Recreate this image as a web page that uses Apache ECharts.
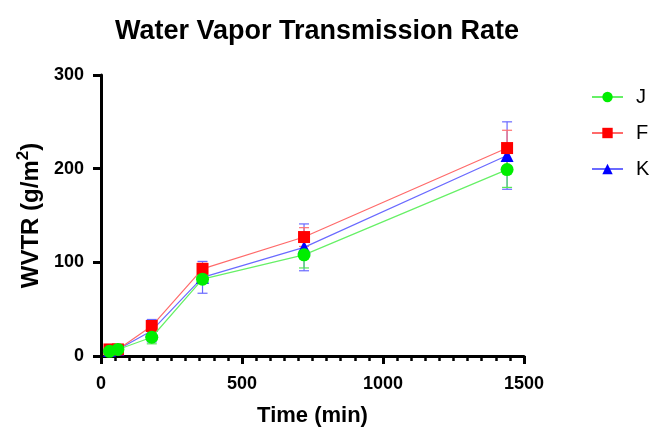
<!DOCTYPE html>
<html>
<head>
<meta charset="utf-8">
<script src="https://cdn.jsdelivr.net/npm/echarts@6/dist/echarts.min.js"></script>
<style>html,body{margin:0;padding:0;background:#fff;}#c{width:654px;height:432px;}</style>
</head>
<body>
<div id="c"></div>
<script>
const times = [30, 60, 180, 360, 720, 1440];
const jVals = [5, 7, 20, 82, 108, 199];
const fVals = [7, 7, 32, 93, 127, 222];
const kVals = [6, 7, 27, 84, 116, 214];
const jErr = [1, 1, 7, 4, 14, 19];
const fErr = [1, 1, 5, 6, 10, 19];
const kErr = [1, 1, 12, 17, 25, 36];
const xTicks = [0, 500, 1000, 1500];
const yTicks = [0, 100, 200, 300];

const chart = echarts.init(document.getElementById('c'));
const FONT = 'Liberation Sans, Arial, sans-serif';

function errSeries(name, vals, errs, color, z) {
  return {
    type: 'custom',
    name: name + ' err',
    z: z,
    silent: true,
    data: times.map((t, i) => [t, vals[i] - errs[i], vals[i] + errs[i]]),
    renderItem: function (params, api) {
      const lo = api.coord([api.value(0), api.value(1)]);
      const hi = api.coord([api.value(0), api.value(2)]);
      const w = 5;
      const st = { stroke: color, lineWidth: 1.2 };
      return {
        type: 'group',
        children: [
          { type: 'line', shape: { x1: lo[0], y1: lo[1], x2: hi[0], y2: hi[1] }, style: st },
          { type: 'line', shape: { x1: lo[0] - w, y1: lo[1], x2: lo[0] + w, y2: lo[1] }, style: st },
          { type: 'line', shape: { x1: hi[0] - w, y1: hi[1], x2: hi[0] + w, y2: hi[1] }, style: st }
        ]
      };
    }
  };
}

function lineSeries(name, vals, color, lineColor, symbol, size, z) {
  return {
    type: 'line',
    name: name,
    z: z,
    data: times.map((t, i) => [t, vals[i]]),
    symbol: symbol,
    symbolSize: size,
    showAllSymbol: true,
    itemStyle: { color: color },
    lineStyle: { color: lineColor, width: 1.2 },
    emphasis: { disabled: true },
    animation: false
  };
}

const nameStyle = { fontFamily: FONT, fontSize: 22, fontWeight: 'bold', color: '#000' };

chart.setOption({
  animation: false,
  backgroundColor: '#fff',
  title: {
    text: 'Water Vapor Transmission Rate',
    left: 312, top: 13, textAlign: 'center',
    textStyle: { fontFamily: FONT, fontSize: 27, fontWeight: 'bold', color: '#000' }
  },
  legend: {
    orient: 'vertical',
    left: 586, top: 82,
    itemGap: 16,
    itemWidth: 31, itemHeight: 13,
    data: ['J', 'F', 'K'],
    textStyle: { fontFamily: FONT, fontSize: 20, color: '#000', padding: [0, 0, 0, 8] }
  },
  grid: { left: 101, right: 130, top: 75, bottom: 73, containLabel: false },
  xAxis: [{
    type: 'value', min: 0, max: 1500, interval: 500,
    name: 'Time (min)', nameLocation: 'middle', nameGap: 49,
    nameTextStyle: nameStyle,
    axisLine: { show: true, onZero: false, lineStyle: { color: '#000', width: 3 } },
    axisTick: { show: true, length: 8, lineStyle: { color: '#000', width: 3 } },
    splitLine: { show: false },
    axisLabel: { fontFamily: FONT, fontSize: 18, fontWeight: 'bold', color: '#000', margin: 19,
      formatter: v => xTicks.includes(v) ? String(v) : '' }
  }, {
    type: 'value', min: 0, max: 1500, interval: 50, position: 'bottom',
    axisLine: { show: false, onZero: false },
    axisTick: { show: true, length: 5, lineStyle: { color: '#000', width: 2.5 } },
    splitLine: { show: false },
    axisLabel: { show: false }
  }],
  yAxis: {
    type: 'value', min: 0, max: 300, interval: 100,
    name: '{a|WVTR (g/m}{s|2}{a|)}', nameLocation: 'middle', nameGap: 55, nameRotate: 90,
    nameTextStyle: Object.assign({}, nameStyle, {
      rich: {
        a: { fontFamily: FONT, fontSize: 24, fontWeight: 'bold', color: '#000', lineHeight: 28, verticalAlign: 'bottom' },
        s: { fontFamily: FONT, fontSize: 17, fontWeight: 'bold', color: '#000', lineHeight: 28, verticalAlign: 'top' }
      }
    }),
    axisLine: { show: true, onZero: false, lineStyle: { color: '#000', width: 3 } },
    axisTick: { show: true, length: 8, lineStyle: { color: '#000', width: 3 } },
    splitLine: { show: false },
    axisLabel: { fontFamily: FONT, fontSize: 18, fontWeight: 'bold', color: '#000', margin: 17,
      formatter: v => yTicks.includes(v) ? String(v) : '' }
  },
  series: [
    errSeries('K', kVals, kErr, '#6a6aff', 2),
    errSeries('F', fVals, fErr, '#ff7070', 3),
    errSeries('J', jVals, jErr, '#55e855', 4),
    lineSeries('J', jVals, '#00ee00', '#66f066', 'circle', 13, 6),
    lineSeries('F', fVals, '#ff0000', '#ff6a6a', 'rect', 12, 5),
    lineSeries('K', kVals, '#0000ff', '#6a6aff', 'triangle', 13, 4)
  ]
});
</script>
</body>
</html>
